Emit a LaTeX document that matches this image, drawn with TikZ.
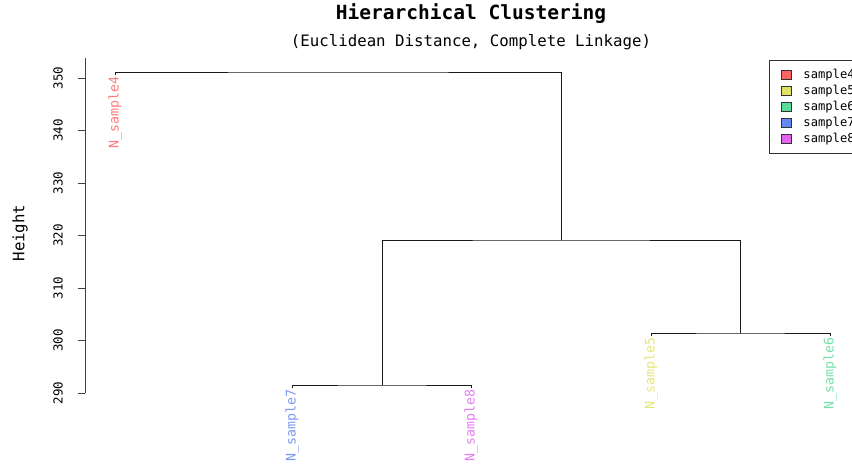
\documentclass[tikz,border=0pt]{standalone}
\usepackage{fontspec}
\setmonofont{DejaVu Sans Mono}
\usepackage{tikz}
\usetikzlibrary{positioning}
\definecolor{csfour}{HTML}{FF6464}
\definecolor{csfive}{HTML}{E0E064}
\definecolor{csix}{HTML}{5ADC96}
\definecolor{cseven}{HTML}{6487F0}
\definecolor{ceight}{HTML}{E164F0}
\tikzset{
  leaflab/.style={font=\ttfamily\fontsize{13.3}{13.3}\selectfont, rotate=90,
                  anchor=east, inner sep=1.5bp},
  ticklab/.style={font=\ttfamily\fontsize{12.5}{12.5}\selectfont, rotate=90},
  link/.style={draw=black!90, line width=0.75bp},
  axisline/.style={draw=black!75, line width=0.75bp},
  legsq/.style={draw=black!80, line width=0.5bp, minimum width=10bp,
                minimum height=9bp, inner sep=0pt},
  legtxt/.style={font=\ttfamily\fontsize{12.2}{12.2}\selectfont, anchor=west,
                 inner sep=0pt},
}

\begin{document}
\begin{tikzpicture}[x=1bp, y=-1bp]
  \useasboundingbox (0,0) rectangle (852,470);

  \node[font=\ttfamily\bfseries\fontsize{19.6}{19.6}\selectfont] (title) at (471,14) {Hierarchical Clustering};
  \node[font=\ttfamily\fontsize{15.8}{15.8}\selectfont] (subtitle) at (471,42) {(Euclidean Distance, Complete Linkage)};

  % y axis
  \draw[axisline] (85,58) -- (85,393);
  \foreach \h [count=\i from 0] in {290,300,...,350} {
    \draw[axisline] (85,393-52.5*\i) -- (78,393-52.5*\i);
    \node[ticklab] at (58,393-52.5*\i) {\h};
  }
  \node[font=\ttfamily\fontsize{15.8}{15.8}\selectfont, rotate=90] (ylab) at (20,233) {Height};

  % leaves
  \node[leaflab, text=csfour!85] (l4) at (115,75) {N\_sample4};
  \node[leaflab, text=cseven!85] (l7) at (292,388) {N\_sample7};
  \node[leaflab, text=ceight!85] (l8) at (471,388) {N\_sample8};
  \node[leaflab, text=csfive!85] (l5) at (651,336) {N\_sample5};
  \node[leaflab, text=csix!85] (l6) at (830,336) {N\_sample6};

  % merges
  \coordinate (m78) at (382,385);
  \coordinate (m56) at (740,333);
  \coordinate (mmid) at (561,240);
  \coordinate (mtop) at (338,72);

  \draw[link] (l7.east) |- (m78) -| (l8.east);
  \draw[link] (l5.east) |- (m56) -| (l6.east);
  \draw[link] (m78) |- (mmid) -| (m56);
  \draw[link] (l4.east) |- (mtop) -| (mmid);

  % legend
  \node[draw=black!80, line width=0.6bp, minimum width=100bp, minimum height=93bp,
        anchor=north west, inner sep=0pt] (legend) at (769,60) {};
  \foreach \c/\t [count=\i from 0] in {csfour/sample4,csfive/sample5,csix/sample6,cseven/sample7,ceight/sample8} {
    \node[legsq, fill=\c] (sq\i) at (786,75+16*\i) {};
    \node[legtxt, right=12bp of sq\i] (lt\i) {\t};
  }
\end{tikzpicture}
\end{document}
